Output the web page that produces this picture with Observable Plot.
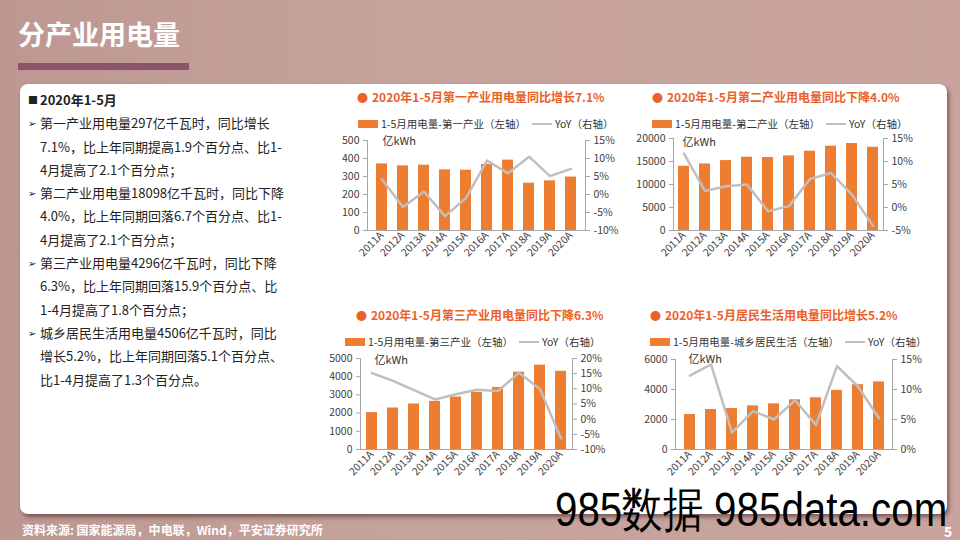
<!DOCTYPE html>
<html><head><meta charset="utf-8">
<script src="https://cdn.jsdelivr.net/npm/d3@7"></script>
<script src="https://cdn.jsdelivr.net/npm/@observablehq/plot@0.6"></script>
<style>
html,body{margin:0;padding:0;}
body{width:960px;height:540px;position:relative;overflow:hidden;
 background:linear-gradient(90deg,#bd9893 0%,#c6a29c 40%,#c9a49e 100%);
 font-family:"Noto Sans CJK SC","Noto Sans",sans-serif;}
.abs{position:absolute;white-space:nowrap;}
#panel{position:absolute;left:20px;top:84px;width:927px;height:430px;background:#fff;border-radius:8px;box-shadow:2px 3px 4px rgba(60,30,30,.55);}
.hdr{left:18px;top:14px;font-size:27px;font-weight:bold;color:#fff;}
.hbar{left:18px;top:63px;width:171px;height:7px;background:#8c5469;}
.txt{font-size:13px;color:#222;line-height:23.3px;}
.ctitle{font-size:12px;font-weight:bold;color:#eb6128;line-height:16px;}
.legend{font-size:10.5px;color:#333;display:flex;align-items:center;line-height:14px;}
.sw{display:inline-block;width:20px;height:8px;background:#ED7D31;margin-right:3px;}
.ln{display:inline-block;width:20px;height:2.5px;background:#BFBFBF;margin:0 3px 0 6px;}
.chart{position:absolute;}
.src{left:22px;top:521px;font-size:12px;font-weight:bold;color:#fff;}
.pg{left:944px;top:521px;font-size:14px;font-weight:bold;color:#fff;}
.wm{left:555px;top:482px;font-size:48px;color:#000;font-family:"Liberation Sans",sans-serif;transform:scaleX(0.84);transform-origin:left top;line-height:56px;}
</style></head>
<body>
<div class="abs hdr">分产业用电量</div>
<div class="abs hbar"></div>
<div id="panel"></div>
<div class="abs txt" style="left:28px;top:88px;" id="notes"></div>
<div id="charts"></div>
<div class="abs src">资料来源: 国家能源局，中电联，Wind，平安证券研究所</div>
<div class="abs wm">985数据 985data.com</div>
<div class="abs pg">5</div>
<script>
// ---- data ----
const years = ["2011A","2012A","2013A","2014A","2015A","2016A","2017A","2018A","2019A","2020A"];
const primaryUse = [370, 359, 363, 337, 335, 367, 391, 263, 276, 297];
const primaryYoY = [4.2, -3.5, 0.8, -6.0, -1.0, 9.4, 5.9, 10.5, 5.1, 7.1];
const secondaryUse = [13960, 14470, 15200, 15930, 15860, 16220, 17240, 18330, 18910, 18098];
const secondaryYoY = [11.7, 3.6, 4.6, 5.0, -0.8, 0.3, 6.2, 7.5, 2.8, -4.0];
const tertiaryUse = [2025, 2280, 2500, 2645, 2885, 3140, 3410, 4250, 4635, 4296];
const tertiaryYoY = [15.2, 12.6, 9.6, 6.5, 8.2, 9.7, 9.3, 15.3, 9.9, -6.3];
const residentialUse = [2330, 2665, 2730, 2910, 3045, 3315, 3450, 3940, 4320, 4506];
const residentialYoY = [12.3, 14.2, 2.8, 6.4, 5.0, 8.2, 4.1, 13.9, 10.5, 5.2];

const chartTitles = [
 "2020年1-5月第一产业用电量同比增长7.1%",
 "2020年1-5月第二产业用电量同比下降4.0%",
 "2020年1-5月第三产业用电量同比下降6.3%",
 "2020年1-5月居民生活用电量同比增长5.2%"];
const legendNames = [
 "1-5月用电量-第一产业（左轴）",
 "1-5月用电量-第二产业（左轴）",
 "1-5月用电量-第三产业（左轴）",
 "1-5月用电量-城乡居民生活（左轴）"];
const yoyName = "YoY（右轴）";
const unitLabel = "亿kWh";

const noteLines = [
 ["■", "2020年1-5月", true],
 ["➢", "第一产业用电量297亿千瓦时，同比增长"],
 ["", "7.1%，比上年同期提高1.9个百分点、比1-"],
 ["", "4月提高了2.1个百分点；"],
 ["➢", "第二产业用电量18098亿千瓦时，同比下降"],
 ["", "4.0%，比上年同期回落6.7个百分点、比1-"],
 ["", "4月提高了2.1个百分点；"],
 ["➢", "第三产业用电量4296亿千瓦时，同比下降"],
 ["", "6.3%，比上年同期回落15.9个百分点、比"],
 ["", "1-4月提高了1.8个百分点；"],
 ["➢", "城乡居民生活用电量4506亿千瓦时，同比"],
 ["", "增长5.2%，比上年同期回落5.1个百分点、"],
 ["", "比1-4月提高了1.3个百分点。"]];

// ---- notes ----
const notes = document.getElementById("notes");
noteLines.forEach(([b, t, bold]) => {
  const d = document.createElement("div");
  d.style.position = "relative";
  d.style.paddingLeft = "12px";
  if (bold) d.style.fontWeight = "bold";
  const s = document.createElement("span");
  s.textContent = b; s.style.position = "absolute"; s.style.left = "0"; s.style.fontSize = "10px";
  d.appendChild(s);
  d.appendChild(document.createTextNode(t));
  notes.appendChild(d);
});

// ---- charts ----
const layouts = [
 {use: primaryUse, yoy: primaryYoY, lmax: 500, lstep: 100, rmin: -10, rmax: 15, rstep: 5,
  left: 320, top: 132, width: 300, height: 140, ml: 47, mr: 35, mt: 8, mb: 42, udx: 15, udy: 1,
  tx: 357, ty: 89, lx: 358, ly: 117},
 {use: secondaryUse, yoy: secondaryYoY, lmax: 20000, lstep: 5000, rmin: -5, rmax: 15, rstep: 5,
  left: 620, top: 130, width: 320, height: 142, ml: 53, mr: 57, mt: 8, mb: 42, udx: 9, udy: 4,
  tx: 652, ty: 89, lx: 652, ly: 117},
 {use: tertiaryUse, yoy: tertiaryYoY, lmax: 5000, lstep: 1000, rmin: -10, rmax: 20, rstep: 5,
  left: 310, top: 350, width: 300, height: 140, ml: 50, mr: 38, mt: 8, mb: 41, udx: 14, udy: 2,
  tx: 356, ty: 307, lx: 345, ly: 335},
 {use: residentialUse, yoy: residentialYoY, lmax: 6000, lstep: 2000, rmin: 0, rmax: 15, rstep: 5,
  left: 620, top: 351, width: 320, height: 138, ml: 55, mr: 48, mt: 8, mb: 40, udx: 13, udy: 0,
  tx: 650, ty: 307, lx: 650, ly: 335}
];

const host = document.getElementById("charts");
layouts.forEach((c, k) => {
  const t = document.createElement("div");
  t.className = "abs ctitle";
  t.style.left = c.tx + "px"; t.style.top = c.ty + "px";
  t.innerHTML = '<span style="font-size:11px;margin-right:4px;">●</span>' + chartTitles[k];
  document.body.appendChild(t);

  const lg = document.createElement("div");
  lg.className = "abs legend";
  lg.style.left = c.lx + "px"; lg.style.top = c.ly + "px";
  lg.innerHTML = '<span class="sw"></span><span>' + legendNames[k] + '</span><span class="ln"></span><span>' + yoyName + '</span>';
  document.body.appendChild(lg);

  const rows = years.map((y, i) => ({year: y, value: c.use[i], yoy: c.yoy[i]}));
  const toL = v => (v - c.rmin) / (c.rmax - c.rmin) * c.lmax;
  const fromL = v => v / c.lmax * (c.rmax - c.rmin) + c.rmin;
  const leftTicks = d3.range(0, c.lmax + c.lstep / 2, c.lstep);
  const rightTicks = d3.range(c.rmin, c.rmax + c.rstep / 2, c.rstep).map(toL);

  const svg = Plot.plot({
    width: c.width, height: c.height,
    marginLeft: c.ml, marginRight: c.mr, marginTop: c.mt, marginBottom: c.mb,
    style: {fontFamily: "'Noto Sans CJK SC','Noto Sans',sans-serif", fontSize: "10.5px", color: "#404040", background: "none", overflow: "visible"},
    x: {type: "band", domain: years, paddingInner: 0.5, paddingOuter: 0.25, label: null},
    y: {domain: [0, c.lmax], label: null},
    marks: [
      Plot.barY(rows, {x: "year", y: "value", fill: "#ED7D31"}),
      Plot.line(rows, {x: "year", y: d => toL(d.yoy), stroke: "#BFBFBF", strokeWidth: 2.5}),
      Plot.ruleY([0], {stroke: "#a6a6a6"}),
      Plot.frame({anchor: "left", stroke: "#a6a6a6"}),
      Plot.frame({anchor: "right", stroke: "#a6a6a6"}),
      Plot.axisY(leftTicks, {anchor: "left", tickSize: 4, tickPadding: 4, stroke: "#a6a6a6", tickFormat: d => String(d), label: null}),
      Plot.axisY(rightTicks, {anchor: "right", tickSize: 4, tickPadding: 4, stroke: "#a6a6a6", tickFormat: d => Math.round(fromL(d)) + "%", label: null}),
      Plot.axisX({tickRotate: -45, tickSize: 0, tickPadding: 3, label: null, fontSize: 10.5}),
      Plot.text([unitLabel], {frameAnchor: "top-left", dx: c.udx, dy: c.udy, textAnchor: "start", lineAnchor: "middle", fontSize: 11, fill: "#333"})
    ]
  });
  svg.classList.add("chart");
  svg.style.left = c.left + "px"; svg.style.top = c.top + "px";
  host.appendChild(svg);
});
</script>
</body></html>
